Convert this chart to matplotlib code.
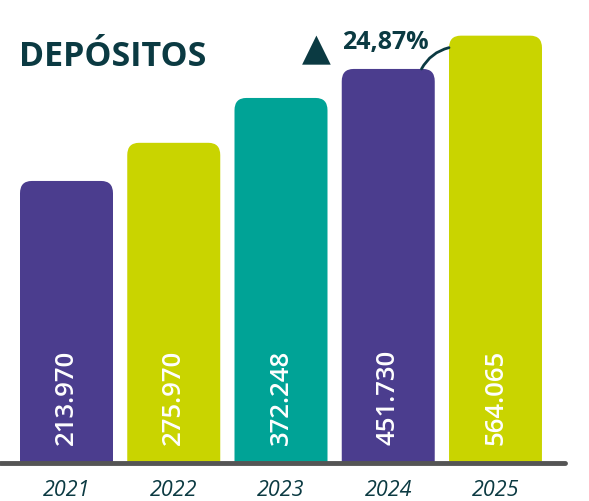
import matplotlib
matplotlib.use('Agg')
import numpy as np
import matplotlib.pyplot as plt
from matplotlib.patches import FancyBboxPatch

years = ['2021', '2022', '2023', '2024', '2025']
values = [213970, 275970, 372248, 451730, 564065]
labels = ['213.970', '275.970', '372.248', '451.730', '564.065']
colors = ['#4B3D8E', '#C9D400', '#00A396', '#4B3D8E', '#C9D400']
growth = '24,87%'

dark = '#0B3A42'
W, H = 589, 502
px_per_ln = 149.9           # bar heights follow a log scale in the original
ymin = 32600
ymax = ymin * np.exp(464 / px_per_ln)

fig = plt.figure(figsize=(W / 100, H / 100), dpi=100)
# axes: left edge at fig left, baseline at y=464px, top at y=0
ax = fig.add_axes([0, 38 / H, 1, 464 / H])
ax.set_yscale('log')
ax.set_xlim(-66.5 / 107.25, (W - 66.5) / 107.25)
ax.set_ylim(ymin, ymax)
ax.axis('off')

bw = 93 / 107.25
for i, v in enumerate(values):
    # value units per x unit near the top of this bar
    aspect = v / px_per_ln * 107.25
    p = FancyBboxPatch((i - bw / 2, 1000), bw, v - 1000,
                       boxstyle='round,pad=0,rounding_size=0.11',
                       mutation_aspect=aspect, fc=colors[i], ec='none')
    ax.add_patch(p)
    ax.annotate(labels[i], xy=(i, ymin), xytext=(0, 19), textcoords='offset pixels',
                rotation=90, ha='center', va='bottom', color='white',
                fontsize=18.5, fontweight='semibold', family='Open Sans')
    ax.annotate(years[i], xy=(i, ymin), xytext=(0, -27), textcoords='offset pixels',
                ha='center', va='center', color=dark, fontsize=15.5,
                style='italic', family='Open Sans')

# axis line
ax.axhline(ymin, xmin=0, xmax=565 / W, color='#555555', lw=3.5,
           solid_capstyle='round', clip_on=False, zorder=5)

# growth connector from 2024 bar top to 2025 bar side
ax.annotate('', xy=(4 - bw / 2, values[4] * np.exp(-12 / px_per_ln)),
            xytext=(3 + 0.31, values[3]),
            arrowprops=dict(arrowstyle='-', color=dark, lw=2,
                            connectionstyle='arc3,rad=-0.22', shrinkA=0, shrinkB=0))

fig.text(19 / W, 1 - 57 / H, 'DEPÓSITOS', fontsize=24.5, fontweight='bold',
         color=dark, family='Open Sans', va='center', ha='left')
fig.text(316 / W, 1 - 50 / H, '▲', fontsize=27, color=dark, family='DejaVu Sans',
         ha='center', va='center')
fig.text(342 / W, 1 - 42 / H, growth, fontsize=18, fontweight='bold',
         color=dark, family='Open Sans', ha='left', va='center')

fig.savefig('out.png', dpi=100)
